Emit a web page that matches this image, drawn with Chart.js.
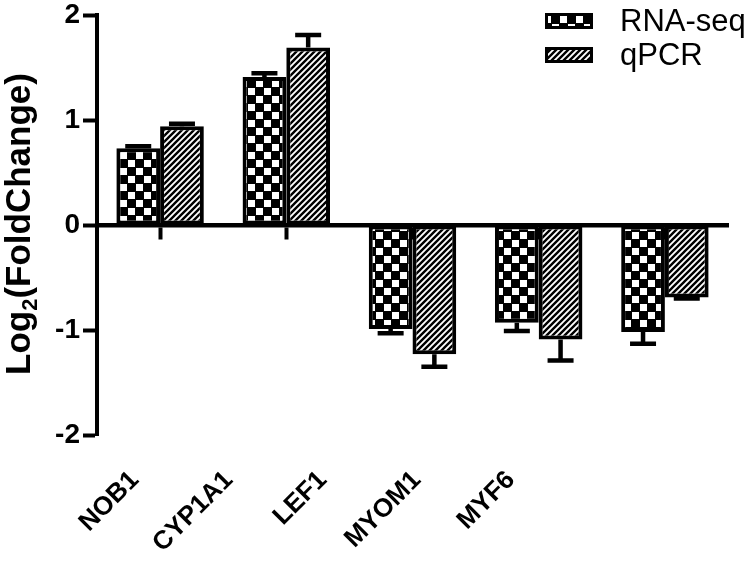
<!DOCTYPE html>
<html>
<head>
<meta charset="utf-8">
<script src="https://cdn.jsdelivr.net/npm/chart.js@4.4.1/dist/chart.umd.min.js"></script>
<style>
  html, body { margin: 0; padding: 0; background: #fff; }
  #wrap { width: 756px; height: 562px; }
</style>
</head>
<body>
<div id="wrap"><canvas id="chart" width="756" height="562"></canvas></div>
<script>
// data
const genes = ['NOB1', 'CYP1A1', 'LEF1', 'MYOM1', 'MYF6'];
const seriesNames = ['RNA-seq', 'qPCR'];
const rnaSeq = [0.73, 1.41, -0.99, -0.93, -1.02];
const rnaSeqErr = [0.02, 0.035, 0.04, 0.08, 0.11];
const qpcr = [0.94, 1.69, -1.23, -1.09, -0.69];
const qpcrErr = [0.025, 0.12, 0.12, 0.20, 0.01];
const yTicks = [-2, -1, 0, 1, 2];

const FONT = 'Arial, "Liberation Sans", Helvetica, sans-serif';
Chart.defaults.font.family = FONT;
Chart.defaults.color = '#000';

function checkerPattern() {
  const c = document.createElement('canvas');
  c.width = 16; c.height = 16;
  const g = c.getContext('2d');
  g.fillStyle = '#000';
  g.fillRect(0, 0, 16, 16);
  g.fillStyle = '#fff';
  g.fillRect(0, 0, 7, 7);
  g.fillRect(8, 8, 7, 7);
  return g.createPattern(c, 'repeat');
}

function hatchPattern() {
  const s = 6;
  const c = document.createElement('canvas');
  c.width = s; c.height = s;
  const g = c.getContext('2d');
  g.fillStyle = '#fff';
  g.fillRect(0, 0, s, s);
  g.strokeStyle = '#000';
  g.lineWidth = 2.4;
  g.beginPath();
  g.moveTo(-1, s + 1); g.lineTo(s + 1, -1);
  g.moveTo(-1, 1); g.lineTo(1, -1);
  g.moveTo(s - 1, s + 1); g.lineTo(s + 1, s - 1);
  g.stroke();
  return g.createPattern(c, 'repeat');
}

const errors = [rnaSeqErr, qpcrErr];

const errorBars = {
  id: 'errorBars',
  afterDatasetsDraw(chart) {
    const { ctx } = chart;
    const y = chart.scales.y;
    ctx.save();
    ctx.strokeStyle = '#000';
    ctx.lineWidth = 4.5;
    chart.data.datasets.forEach((ds, i) => {
      const meta = chart.getDatasetMeta(i);
      meta.data.forEach((bar, j) => {
        const v = ds.data[j];
        const e = errors[i][j];
        const dir = v >= 0 ? 1 : -1;
        const y0 = y.getPixelForValue(v);
        const y1 = y.getPixelForValue(v + dir * e);
        ctx.beginPath();
        ctx.moveTo(bar.x, y0);
        ctx.lineTo(bar.x, y1);
        ctx.moveTo(bar.x - 13, y1);
        ctx.lineTo(bar.x + 13, y1);
        ctx.stroke();
      });
    });
    ctx.restore();
  }
};

// y title with a real subscript, plus the legend in the top right corner
const extras = {
  id: 'extras',
  afterDraw(chart) {
    const { ctx } = chart;
    ctx.save();
    ctx.fillStyle = '#000';
    ctx.textBaseline = 'alphabetic';
    const big = 'bold 35px ' + FONT;
    const small = 'bold 22px ' + FONT;
    ctx.font = big;
    const w1 = ctx.measureText('Log').width;
    const w3 = ctx.measureText('(FoldChange)').width;
    ctx.font = small;
    const w2 = ctx.measureText('2').width;
    const total = w1 + w2 + w3;
    ctx.translate(30, 224 + total / 2);
    ctx.rotate(-Math.PI / 2);
    ctx.font = big;
    ctx.fillText('Log', 0, 0);
    ctx.font = small;
    ctx.fillText('2', w1, 7);
    ctx.font = big;
    ctx.fillText('(FoldChange)', w1 + w2, 0);
    ctx.restore();

    ctx.save();
    ctx.font = '31px ' + FONT;
    ctx.textBaseline = 'middle';
    chart.data.datasets.forEach((ds, i) => {
      const top = 13 + i * 34;
      ctx.fillStyle = '#000';
      ctx.fillRect(545, top, 48, 16);
      ctx.fillStyle = ds.backgroundColor;
      ctx.fillRect(548, top + 3, 42, 10);
      ctx.fillStyle = '#000';
      ctx.fillText(ds.label, 620, top + 9);
    });
    ctx.restore();
  }
};

new Chart(document.getElementById('chart'), {
  type: 'bar',
  data: {
    labels: genes,
    datasets: [
      { label: seriesNames[0], data: rnaSeq, backgroundColor: checkerPattern() },
      { label: seriesNames[1], data: qpcr, backgroundColor: hatchPattern() }
    ]
  },
  options: {
    responsive: false,
    animation: false,
    devicePixelRatio: 1,
    layout: { autoPadding: false, padding: { top: 15, right: 28, left: 0, bottom: 0 } },
    datasets: {
      bar: {
        categoryPercentage: 0.693,
        barPercentage: 1,
        borderWidth: 4,
        borderColor: '#000',
        borderSkipped: false
      }
    },
    plugins: {
      legend: { display: false },
      tooltip: { enabled: false },
      title: { display: false }
    },
    scales: {
      x: { display: false, offset: true },
      x2: {
        type: 'category',
        position: { y: 0 },
        offset: true,
        grid: { offset: false, drawOnChartArea: false, drawTicks: true, tickLength: 12, tickWidth: 4, color: '#000' },
        border: { display: true, width: 4.5, color: '#000' },
        ticks: { display: false }
      },
      // gene names sit on their own scale: in the figure they drift left of the bars
      xLabels: {
        type: 'linear',
        position: 'bottom',
        bounds: 'data',
        offset: false,
        min: -0.404,
        max: 6.309,
        grid: { display: false, drawTicks: false },
        border: { display: false },
        ticks: {
          autoSkip: false,
          minRotation: 45,
          maxRotation: 45,
          padding: 30,
          font: { size: 26, weight: 'bold' },
          callback: v => genes[v] ?? ''
        },
        afterBuildTicks(s) {
          s.ticks = genes.map((g, i) => ({ value: i }));
        },
        afterFit(s) { s.height = 127; }
      },
      y: {
        min: yTicks[0],
        max: yTicks[yTicks.length - 1],
        afterBuildTicks(s) { s.ticks = yTicks.map(v => ({ value: v })); },
        grid: { drawOnChartArea: false, drawTicks: true, tickLength: 14, tickWidth: 4, color: '#000' },
        border: { display: true, width: 4, color: '#000' },
        ticks: {
          padding: 3,
          font: { size: 28, weight: 'bold' },
          callback: v => String(v)
        },
        afterFit(s) {
          s.width = 97;
          s.paddingTop = 0;
          s.paddingBottom = 0;
        }
      }
    }
  },
  plugins: [errorBars, extras]
});
</script>
</body>
</html>
